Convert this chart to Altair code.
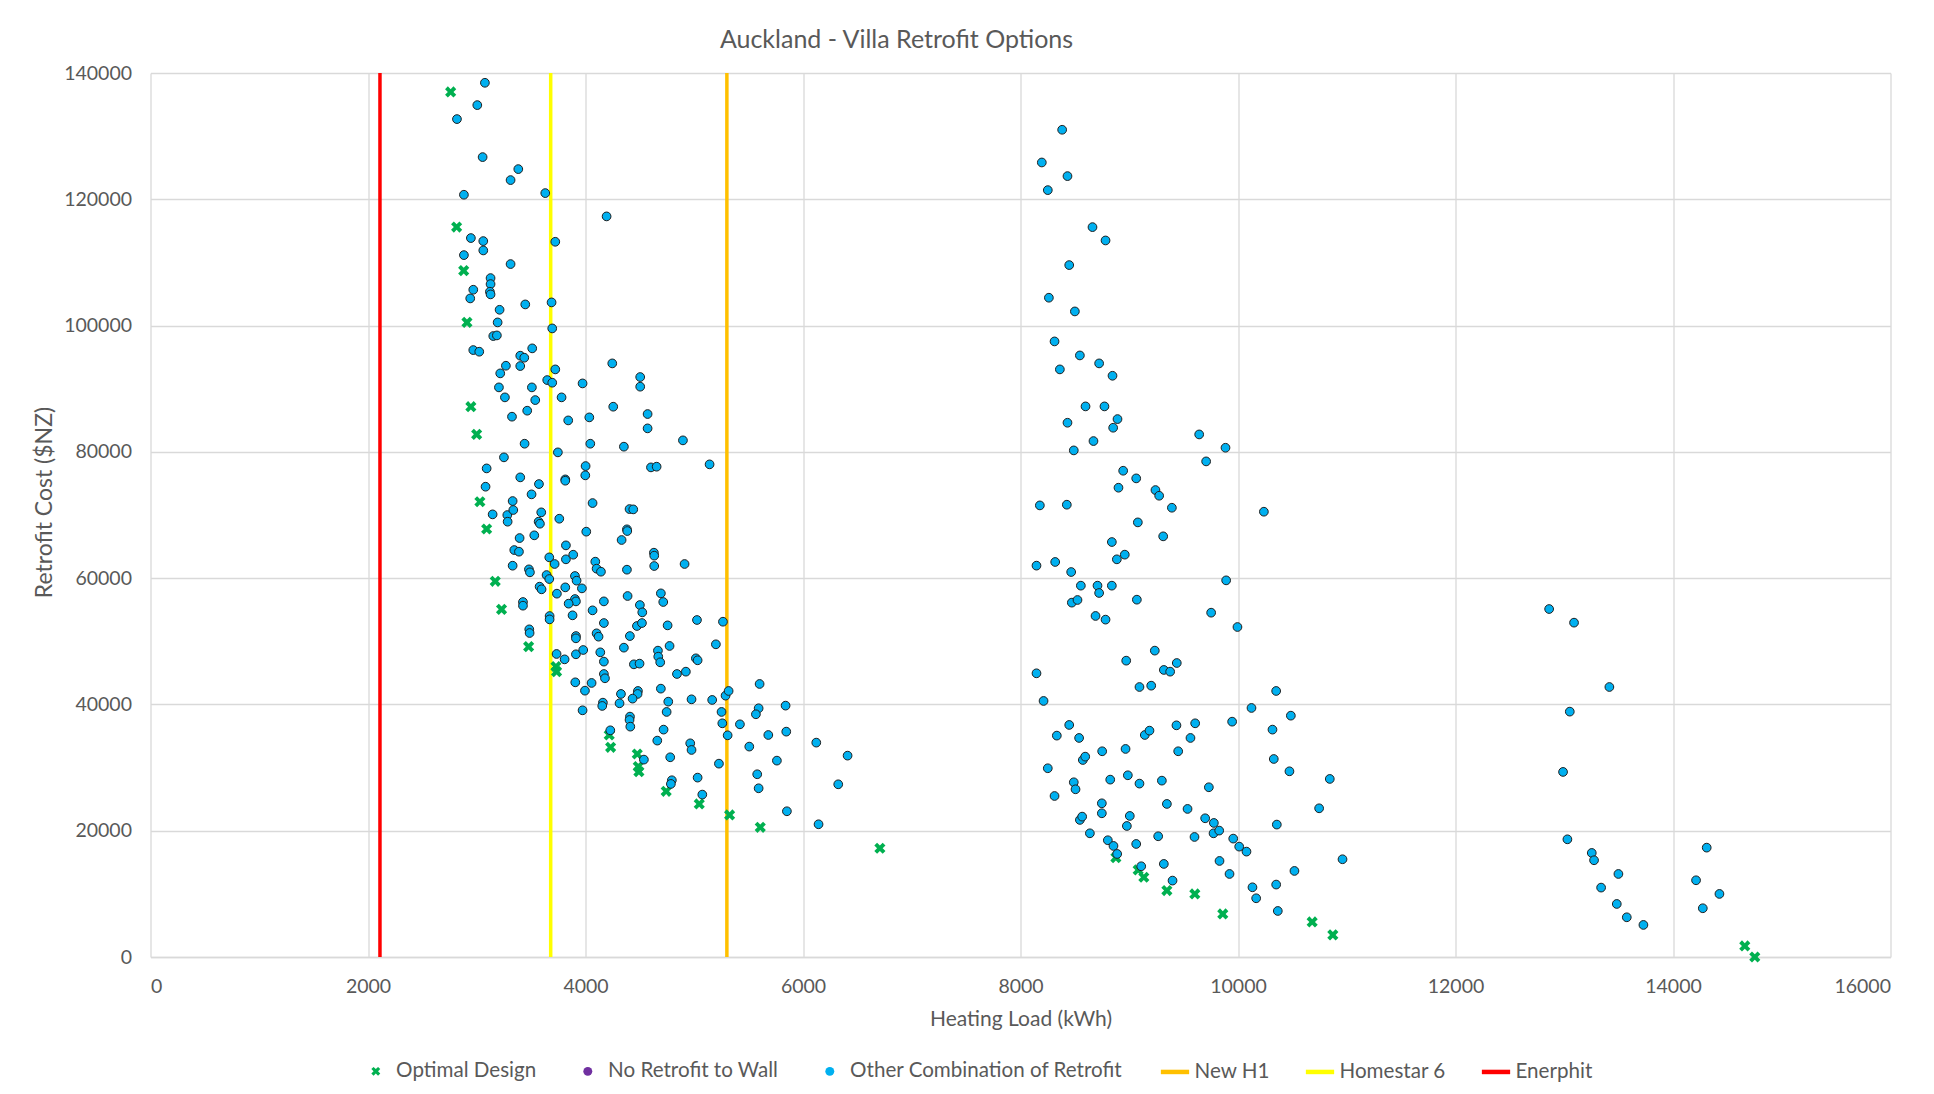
import altair as alt
import pandas as pd

# ---------------- data ----------------
point_series = ["Optimal Design", "No Retrofit to Wall", "Other Combination of Retrofit"]
point_colors = ["#00B050", "#7030A0", "#00B0F0"]
line_names = ["New H1", "Homestar 6", "Enerphit"]
line_colors = ["#FFC000", "#FFFF00", "#FF0000"]
line_x = [5300, 3680, 2110]

x_ticks = [0, 2000, 4000, 6000, 8000, 10000, 12000, 14000, 16000]
y_ticks = [0, 20000, 40000, 60000, 80000, 100000, 120000, 140000]

# Optimal Design (green crosses)
optimal = [
    (2760, 137000), (2815, 115600), (2880, 108700), (2910, 100500), (2946, 87150),
    (2999, 82770), (3029, 72100), (3091, 67780), (3170, 59500), (3228, 55060),
    (3477, 49150), (3728, 46000), (3734, 45200), (4218, 35160), (4231, 33210),
    (4476, 32150), (4485, 30150), (4491, 29360), (4742, 26240), (5046, 24240),
    (5325, 22500), (5607, 20540), (6707, 17220), (8877, 15740), (9082, 13790),
    (9134, 12630), (9346, 10520), (9603, 9990), (9860, 6820), (10682, 5550),
    (10872, 3500), (14660, 1750), (14752, 0),
]

# Other Combination of Retrofit - left group
other_left = [
    (3075, 138450), (3005, 134915), (2818, 132700), (3054, 126680), (3382, 124780),
    (3311, 123040), (2882, 120720), (3630, 120980), (4194, 117290), (2946, 113860),
    (3060, 113380), (3722, 113270), (3060, 111900), (2882, 111160), (3311, 109740),
    (3127, 107520), (3127, 106570), (2968, 105675), (3121, 105360), (3127, 104940),
    (2940, 104300), (3210, 102500), (3446, 103350), (3688, 103670), (3192, 100500),
    (3694, 99550), (3152, 98340), (3185, 98440), (2968, 96120), (3023, 95860),
    (3510, 96390), (3400, 95230), (3437, 94910),
    (3268, 93640), (3400, 93590), (3216, 92430), (3722, 93060), (4246, 94010),
    (3648, 91370), (3694, 90950), (3973, 90840), (4503, 91850), (4503, 90320),
    (3204, 90210), (3507, 90210), (3259, 88630), (3538, 88200), (3780, 88630),
    (4255, 87150), (3464, 86520), (3324, 85570), (3841, 84980), (4035, 85460),
    (4571, 85990), (4571, 83720), (4896, 81820), (3440, 81290), (4044, 81290),
    (4353, 80820), (3746, 79920), (3250, 79130), (3091, 77380), (4001, 77750),
    (3998, 76280), (4602, 77540), (4654, 77650), (5141, 78020), (3400, 75960),
    (3572, 74900), (3814, 75640), (3814, 75430), (3081, 74480), (3504, 73270),
    (3330, 72210), (4065, 71890), (4405, 70940), (4439, 70890), (3146, 70100),
    (3281, 69990), (3336, 70790), (3593, 70420), (3569, 68940), (3581, 68620),
    (3759, 69410), (3284, 68940), (4007, 67360), (4381, 67730), (4384, 67460),
    (4332, 66040), (3394, 66350), (3529, 66780), (3820, 65190), (3345, 64450),
    (3388, 64190), (3667, 63290), (3716, 62240), (3820, 62980), (3887, 63710),
    (4090, 62610), (4102, 61500), (4142, 61020), (4629, 64030), (4632, 63560),
    (4632, 61920), (4911, 62240), (4381, 61340), (3330, 61970), (3480, 61390),
    (3489, 60920), (3642, 60490), (3667, 59860), (3903, 60340), (3918, 59600),
    (3578, 58650), (3596, 58230), (3814, 58540), (3967, 58380), (3737, 57540),
    (3903, 56690), (3912, 56320), (3845, 55960), (4169, 56320), (4387, 57170),
    (4500, 55740), (4522, 54580), (4693, 57590), (4715, 56220), (3425, 56220),
    (3425, 55640), (4065, 54900), (3670, 54000), (3670, 53470), (3881, 54110),
    (4169, 52890), (4473, 52420), (4519, 52890), (4755, 52520), (5025, 53370),
    (5264, 53100), (3483, 51890), (3486, 51310), (3912, 50830), (3912, 50470),
    (4102, 51260), (4120, 50730), (4408, 50830),
    (3734, 47990), (3808, 47140), (3912, 47940), (3979, 48620), (4136, 48250),
    (4169, 46780), (4353, 48990), (4666, 48520), (4669, 47570), (4687, 46670),
    (4773, 49260), (5015, 47300), (5031, 46990), (5199, 49520), (4445, 46350),
    (4497, 46460), (4169, 44820), (4179, 44140), (4841, 44820), (4923, 45190),
    (3906, 43500), (4056, 43400), (3995, 42180), (4326, 41660), (4482, 42130),
    (4479, 41660), (4433, 40920), (4693, 42500), (4761, 40440), (4975, 40810),
    (5165, 40710), (5288, 41390), (5316, 42130), (5601, 43240), (5592, 39390),
    (5567, 38440), (4160, 40280), (4154, 39760), (4313, 40180), (3973, 39070),
    (4746, 38810), (4409, 38070), (4405, 37540), (4412, 36480), (5251, 38810),
    (5258, 37010), (5420, 36850), (5307, 35110), (5681, 35160), (4228, 35900),
    (4718, 36010), (4660, 34270), (5506, 33320), (4963, 33840), (4975, 32790),
    (4537, 31260), (4779, 31630), (5227, 30620), (5579, 28940), (5592, 26720),
    (5031, 28410), (4794, 27990), (4785, 27410), (5074, 25720),
    (5840, 39810), (5846, 35690), (6122, 33950), (6410, 31890), (6324, 27350),
    (5852, 23080), (6143, 21020), (5760, 31100),
]

# Other Combination of Retrofit - middle group
other_mid = [
    (8383, 131010), (8196, 125830), (8432, 123670), (8251, 121450), (8662, 115590),
    (8782, 113480), (8448, 109580), (8261, 104410), (8500, 102240), (8313, 97490),
    (8546, 95270), (8362, 93060), (8723, 94010), (8846, 92050), (8598, 87200),
    (8772, 87200), (8432, 84610), (8892, 85190), (8852, 83820), (9643, 82760),
    (9885, 80650), (9707, 78490), (8671, 81710), (8490, 80230), (8944, 77010),
    (9064, 75800), (8901, 74320), (9241, 73950), (9275, 73050), (9392, 71150),
    (8178, 71520), (8426, 71630), (10238, 70520), (9079, 68830), (9312, 66620),
    (8840, 65720),
    (8147, 61980), (8319, 62560), (8466, 60970), (8886, 62980), (8959, 63720),
    (8555, 58810), (8708, 58810), (8723, 57650), (8840, 58810), (8472, 56120),
    (8524, 56540), (9070, 56590), (8690, 54010), (8782, 53430), (9891, 59650),
    (9753, 54530), (9995, 52260), (9235, 48520), (8972, 46930), (9318, 45460),
    (9376, 45190), (9437, 46560), (8147, 44930), (9094, 42760), (9202, 42970),
    (8212, 40550), (10351, 42130), (10124, 39440), (10486, 38220), (9946, 37270),
    (10317, 36010), (8448, 36750), (8334, 35060), (8539, 34690), (9143, 35160),
    (9186, 35850), (9434, 36690), (9606, 37010), (9563, 34690), (8751, 32580),
    (8966, 32950), (9450, 32580), (8573, 31200), (8595, 31730), (10329, 31360),
    (10473, 29410), (10844, 28200), (8251, 29890), (8490, 27670), (8506, 26560),
    (8825, 28090), (8987, 28780), (9094, 27460), (9300, 27930), (9732, 26880),
    (8313, 25500), (10746, 23550), (8748, 24340), (8748, 22760), (9005, 22340),
    (8978, 20750), (8546, 21710), (8567, 22230), (9346, 24240), (9536, 23450),
    (9698, 21970), (9778, 21230), (10357, 20970), (8638, 19590), (8803, 18490),
    (8855, 17590), (8889, 16320), (9064, 17900), (9266, 19120), (9600, 19010),
    (9775, 19590), (9827, 20020), (9956, 18750), (10011, 17480), (10078, 16690),
    (10961, 15480), (9110, 14370), (9318, 14740), (9830, 15210), (9922, 13150),
    (10519, 13630), (9398, 12100), (10133, 11040), (10351, 11470), (10167, 9300),
    (10366, 7290),
]

# Other Combination of Retrofit - right group
other_right = [
    (12861, 55110), (13090, 52950), (13415, 42760), (13051, 38860), (12989, 29310),
    (13029, 18640), (13253, 16480), (13274, 15320), (13498, 13150), (13339, 10990),
    (13483, 8400), (13575, 6290), (13728, 5080), (14310, 17320), (14212, 12150),
    (14427, 9990), (14274, 7720),
]

# ---------------- tables ----------------
def to_df(points, name):
    return pd.DataFrame({"x": [p[0] for p in points],
                         "y": [p[1] for p in points],
                         "series": name})

df_opt = to_df(optimal, "Optimal Design")
df_oth = pd.concat([to_df(other_left, "Other Combination of Retrofit"),
                    to_df(other_mid, "Other Combination of Retrofit"),
                    to_df(other_right, "Other Combination of Retrofit")],
                   ignore_index=True)
df_lines = pd.DataFrame({"x": line_x, "line": line_names})

X_PATH = ("M-1,-0.5L-0.5,-1L0,-0.5L0.5,-1L1,-0.5L0.5,0L1,0.5L0.5,1"
          "L0,0.5L-0.5,1L-1,0.5L-0.5,0Z")
point_shapes = [X_PATH, "circle", "circle"]

FONT = "Lato"
GREY = "#595959"
GRID = "#d9d9d9"

color_scale = alt.Scale(domain=point_series, range=point_colors)
shape_scale = alt.Scale(domain=point_series, range=point_shapes)
line_scale = alt.Scale(domain=line_names, range=line_colors)

point_legend = alt.Legend(
    title=None, orient="none", direction="horizontal",
    legendX=215, legendY=988,
    labelFont=FONT, labelFontSize=20.6, labelColor=GREY, labelLimit=400,
    symbolSize=80, labelOffset=10, columnPadding=41,
    symbolOpacity=1, symbolStrokeColor="#1f1f1f", symbolStrokeWidth=0.6,
)
line_legend = alt.Legend(
    title=None, orient="none", direction="horizontal",
    legendX=1008, legendY=982,
    labelFont=FONT, labelFontSize=20.6, labelColor=GREY, labelLimit=400,
    symbolType="stroke", symbolSize=800, symbolStrokeWidth=4.5,
    labelOffset=3, columnPadding=26, symbolOpacity=1,
)

x_enc = alt.X("x:Q", title="Heating Load (kWh)",
              scale=alt.Scale(domain=[0, 16000], nice=False, zero=False),
              axis=alt.Axis(values=x_ticks, format="d", grid=True, ticks=False,
                            domain=True, domainColor=GRID, domainWidth=1.3,
                            gridColor=GRID, gridWidth=1.3,
                            labelFont=FONT, labelFontSize=19.5, labelColor=GREY,
                            labelPadding=20, titleFont=FONT, titleFontSize=21,
                            titleFontWeight="normal", titleColor=GREY, titlePadding=13))
y_enc = alt.Y("y:Q", title="Retrofit Cost ($NZ)",
              scale=alt.Scale(domain=[0, 140000], nice=False, zero=False),
              axis=alt.Axis(values=y_ticks, format="d", grid=True, ticks=False,
                            domain=False, gridColor=GRID, gridWidth=1.3,
                            labelFont=FONT, labelFontSize=19.5, labelColor=GREY,
                            labelPadding=19, titleFont=FONT, titleFontSize=23,
                            titleFontWeight="normal", titleColor=GREY, titlePadding=7,
                            titleY=429))

rules = alt.Chart(df_lines).mark_rule(strokeWidth=3.5, opacity=1).encode(
    x=alt.X("x:Q", scale=alt.Scale(domain=[0, 16000], nice=False, zero=False)),
    stroke=alt.Stroke("line:N", scale=line_scale, legend=line_legend),
)

opt_layer = alt.Chart(df_opt).mark_point(filled=True, size=125, opacity=1).encode(
    x=x_enc, y=y_enc,
    color=alt.Color("series:N", scale=color_scale, legend=point_legend),
    shape=alt.Shape("series:N", scale=shape_scale, legend=point_legend),
)

oth_layer = alt.Chart(df_oth).mark_point(filled=True, size=76, opacity=1,
                                         stroke="#1f1f1f", strokeWidth=1).encode(
    x=x_enc, y=y_enc,
    color=alt.Color("series:N", scale=color_scale, legend=point_legend),
    shape=alt.Shape("series:N", scale=shape_scale, legend=point_legend),
)

chart = alt.layer(rules, opt_layer, oth_layer).properties(
    width=1740, height=884,
    autosize=alt.AutoSizeParams(type="none"),
    padding={"left": 142.5, "top": 65, "right": 20, "bottom": 130},
    title=alt.TitleParams("Auckland - Villa Retrofit Options", font=FONT, fontSize=25,
                          fontWeight="normal", color=GREY, offset=10, dx=-124,
                          anchor="middle"),
    background="white",
).configure_view(stroke=None)

chart.save("out.html", embed_options={"renderer": "svg", "actions": False})
